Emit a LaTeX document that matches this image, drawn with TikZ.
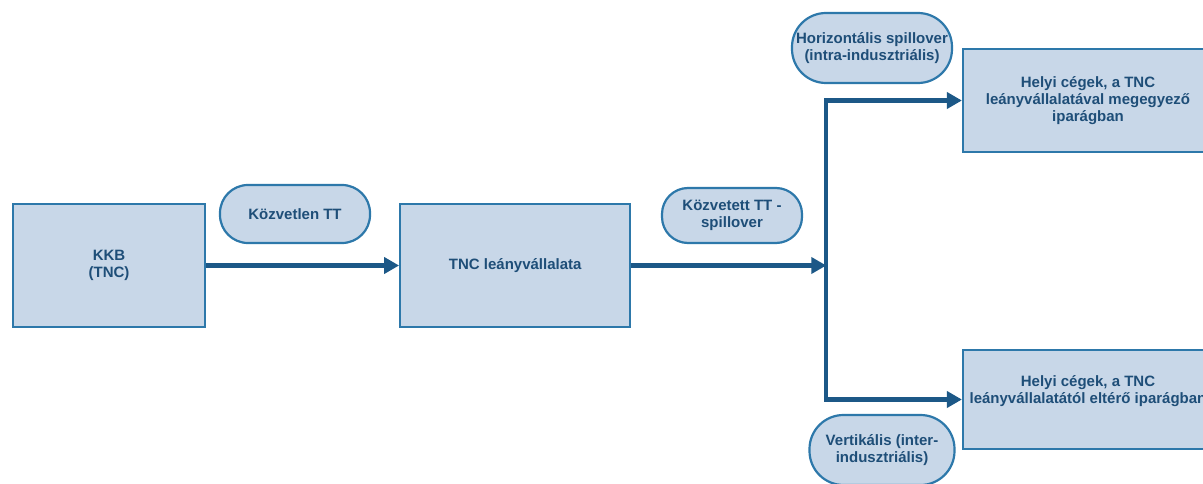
\documentclass[tikz,border=0pt]{standalone}
\usepackage{fontspec}
\setmainfont{Liberation Sans}
\usetikzlibrary{positioning,arrows.meta}
\definecolor{boxfill}{RGB}{200,215,232}
\definecolor{boxline}{RGB}{45,120,170}
\definecolor{boxtext}{RGB}{30,78,120}
\definecolor{flowline}{RGB}{28,88,135}

\begin{document}
\begin{tikzpicture}[x=1pt, y=-1pt,
    box/.style={draw=boxline, line width=2.2pt, fill=boxfill, text=boxtext,
        font=\fontsize{15}{17}\selectfont\bfseries, align=center, inner sep=0pt},
    pill/.style={box, rounded corners=#1},
    flow/.style={draw=flowline, line width=4.2pt,
        -{Triangle[length=15pt,width=16pt]}}]
    \clip (0,0) rectangle (1203,484);
    \fill[white] (0,0) rectangle (1203,484);
    \node[box, minimum width=192pt, minimum height=123pt] (kkb) at (109,265.5) {KKB\\(TNC)};
    \node[box, minimum width=230pt, minimum height=123pt, right=193pt of kkb] (leany) {TNC leányvállalata};
    \coordinate[right=195pt of leany] (split);
    \node[box, minimum width=250pt, minimum height=103pt] (azonos) at (1088,100.5)
        {Helyi cégek, a TNC\\leányvállalatával megegyező\\iparágban};
    \node[box, minimum width=250pt, minimum height=99pt] (elterO) at (1088,399.5)
        {Helyi cégek, a TNC\\leányvállalatától eltérő iparágban\\[4pt]};
    \node[pill=28pt, minimum width=150pt, minimum height=58pt] (kozvetlen) at (295,214) {Közvetlen TT};
    \node[pill=26pt, minimum width=140pt, minimum height=55pt] (kozvetett) at (732,215.5) {Közvetett TT -\\spillover};
    \node[pill=34pt, minimum width=160pt, minimum height=70pt] (horiz) at (872,48)
        {Horizontális spillover\\(intra-indusztriális)};
    \node[pill=34pt, minimum width=145pt, minimum height=70pt] (vert) at (882,450)
        {Vertikális (inter-\\indusztriális)};
    \draw[flow] (kkb) -- (leany);
    \draw[flow] (leany) -- (split);
    \draw[flow] (split) |- (azonos);
    \draw[flow] (split) |- (elterO);
\end{tikzpicture}
\end{document}
